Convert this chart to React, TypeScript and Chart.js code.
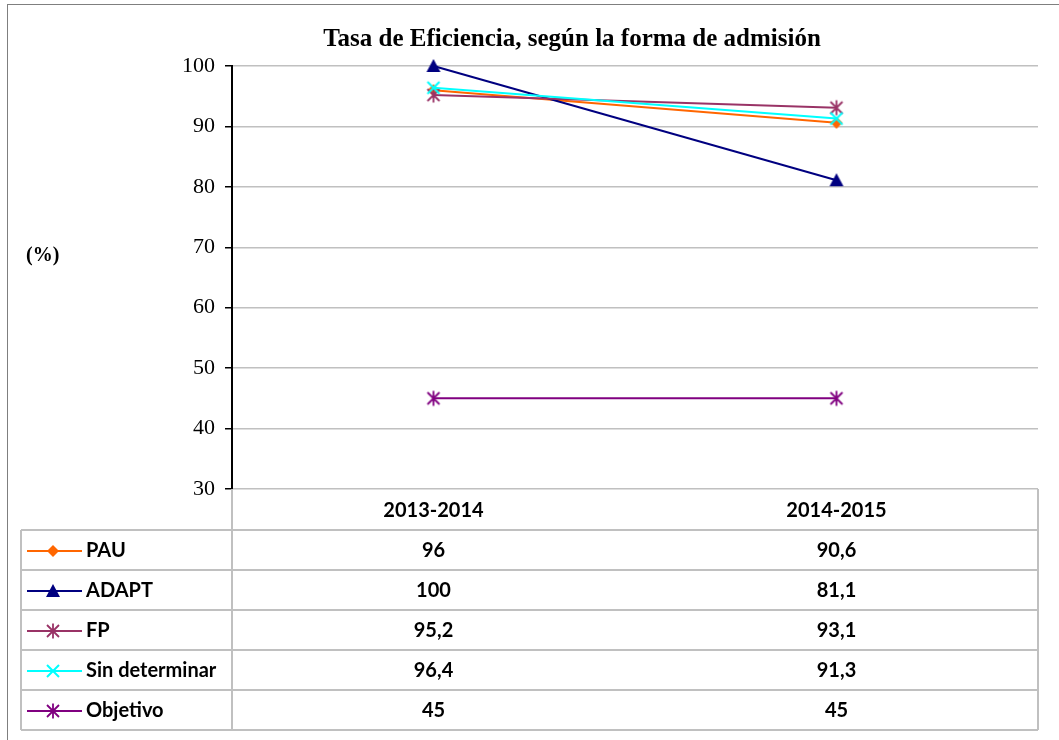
import React, { useEffect, useRef } from 'react';
import { Chart, registerables } from 'chart.js';

Chart.register(...registerables);

// ---- data ----
const categories = ['2013-2014', '2014-2015'];
const seriesNames = ['PAU', 'ADAPT', 'FP', 'Sin determinar', 'Objetivo'];
const pauValues = [96, 90.6];
const adaptValues = [100, 81.1];
const fpValues = [95.2, 93.1];
const sinDeterminarValues = [96.4, 91.3];
const objetivoValues = [45, 45];
const yMin = 30;
const yMax = 100;
const yStep = 10;
const chartTitle = 'Tasa de Eficiencia, según la forma de admisión';
const yAxisTitle = '(%)';

// ---- styles ----
const seriesColors = ['#FF6600', '#000080', '#993366', '#00FFFF', '#800080'];
const seriesMarkers = ['diamond', 'triangle', 'star', 'x', 'star'];
const seriesValues = [pauValues, adaptValues, fpValues, sinDeterminarValues, objetivoValues];

const TABLE_FONT = 'bold 20px Lato, "Open Sans", sans-serif';
const SERIF = '"Liberation Serif", "DejaVu Serif", serif';
const GRID = '#c0c0c0';

function makeMarker(kind: string, color: string): HTMLCanvasElement {
  const s = 18;
  const c = document.createElement('canvas');
  c.width = s;
  c.height = s;
  const g = c.getContext('2d') as CanvasRenderingContext2D;
  const m = s / 2;
  g.fillStyle = color;
  g.strokeStyle = color;
  g.lineWidth = 2;
  if (kind === 'diamond') {
    const r = 6;
    g.beginPath();
    g.moveTo(m, m - r);
    g.lineTo(m + r, m);
    g.lineTo(m, m + r);
    g.lineTo(m - r, m);
    g.closePath();
    g.fill();
  } else if (kind === 'triangle') {
    g.beginPath();
    g.moveTo(m, m - 7);
    g.lineTo(m + 7, m + 6);
    g.lineTo(m - 7, m + 6);
    g.closePath();
    g.fill();
  } else if (kind === 'x') {
    const d = 6;
    g.beginPath();
    g.moveTo(m - d, m - d);
    g.lineTo(m + d, m + d);
    g.moveTo(m + d, m - d);
    g.lineTo(m - d, m + d);
    g.stroke();
  } else if (kind === 'star') {
    const d = 6;
    g.lineWidth = 1.8;
    g.beginPath();
    g.moveTo(m - d, m - d);
    g.lineTo(m + d, m + d);
    g.moveTo(m + d, m - d);
    g.lineTo(m - d, m + d);
    g.moveTo(m, m - 7.5);
    g.lineTo(m, m + 7.5);
    g.stroke();
  }
  return c;
}

function fmt(v: number): string {
  return String(v).replace('.', ',');
}

export default function App() {
  const ref = useRef<HTMLCanvasElement | null>(null);

  useEffect(() => {
    const canvas = ref.current;
    if (!canvas) return;
    const markers = seriesMarkers.map((k, i) => makeMarker(k, seriesColors[i]));

    const decorPlugin = {
      id: 'decor',
      beforeDraw(chart: any) {
        const ctx = chart.ctx as CanvasRenderingContext2D;
        ctx.save();
        ctx.fillStyle = '#ffffff';
        ctx.fillRect(0, 0, chart.width, chart.height);
        ctx.strokeStyle = '#7f7f7f';
        ctx.lineWidth = 1;
        ctx.strokeRect(7.5, 4.5, 3000, 3000);
        ctx.restore();
      },
      afterDraw(chart: any) {
        const ctx = chart.ctx as CanvasRenderingContext2D;
        const area = chart.chartArea;
        const xScale = chart.scales.x;
        ctx.save();
        // title
        ctx.fillStyle = '#000';
        ctx.font = 'bold 25px ' + SERIF;
        ctx.textAlign = 'center';
        ctx.textBaseline = 'alphabetic';
        ctx.fillText(chartTitle, 572, 46);
        // y axis title
        ctx.font = 'bold 20px ' + SERIF;
        ctx.textAlign = 'left';
        ctx.textBaseline = 'middle';
        ctx.fillText(yAxisTitle, 26, 256);

        // data table
        const L = 21;
        const A = area.left;
        const R = area.right;
        const top = area.bottom;
        const headerH = 41;
        const rowH = 40;
        const rowsTop = top + headerH;
        const n = seriesNames.length;
        ctx.strokeStyle = GRID;
        ctx.lineWidth = 2;
        ctx.beginPath();
        ctx.moveTo(A, top);
        ctx.lineTo(A, rowsTop);
        ctx.moveTo(R, top);
        ctx.lineTo(R, rowsTop);
        for (let k = 0; k <= n; k++) {
          const y = rowsTop + k * rowH;
          ctx.moveTo(L, y);
          ctx.lineTo(R, y);
        }
        [L, A, R].forEach((x) => {
          ctx.moveTo(x, rowsTop);
          ctx.lineTo(x, rowsTop + n * rowH);
        });
        ctx.stroke();

        ctx.fillStyle = '#000';
        ctx.font = TABLE_FONT;
        ctx.textBaseline = 'middle';
        ctx.textAlign = 'center';
        categories.forEach((cat, i) => {
          ctx.fillText(cat, xScale.getPixelForValue(i), top + headerH / 2 + 1);
        });
        seriesNames.forEach((name, k) => {
          const cy = rowsTop + k * rowH + rowH / 2 + 1;
          ctx.strokeStyle = seriesColors[k];
          ctx.lineWidth = 2;
          ctx.beginPath();
          ctx.moveTo(L + 6, cy);
          ctx.lineTo(L + 61, cy);
          ctx.stroke();
          const mk = markers[k];
          ctx.drawImage(mk, L + 32 - mk.width / 2, cy - mk.height / 2);
          ctx.fillStyle = '#000';
          ctx.textAlign = 'left';
          ctx.fillText(name, L + 65, cy);
          ctx.textAlign = 'center';
          seriesValues[k].forEach((v, i) => {
            ctx.fillText(fmt(v), xScale.getPixelForValue(i), cy);
          });
        });
        ctx.restore();
      },
    };

    const datasets = seriesNames.map((name, i) => ({
      label: name,
      data: seriesValues[i],
      borderColor: seriesColors[i],
      backgroundColor: seriesColors[i],
      borderWidth: 2,
      pointStyle: markers[i],
      pointRadius: 7,
      pointHoverRadius: 7,
      tension: 0,
      fill: false,
      clip: false as any,
      order: seriesNames.length - i,
    }));

    const chart = new Chart(canvas, {
      type: 'line',
      data: { labels: categories, datasets },
      options: {
        animation: false,
        responsive: false,
        devicePixelRatio: 1,
        layout: { padding: { top: 66, right: 21, bottom: 251, left: 0 } },
        plugins: {
          legend: { display: false },
          title: { display: false },
          tooltip: { enabled: false },
        },
        scales: {
          x: {
            display: false,
            offset: true,
          },
          y: {
            min: yMin,
            max: yMax,
            ticks: {
              stepSize: yStep,
              color: '#000',
              padding: 10,
              font: { family: SERIF, size: 22 },
            },
            grid: {
              color: GRID,
              lineWidth: 1.5,
              tickColor: '#000',
              tickLength: 7,
              tickWidth: 1.5,
            },
            border: { display: true, color: '#000', width: 2 },
            afterFit(scale: any) {
              scale.width = 232;
            },
          },
        },
      },
      plugins: [decorPlugin],
    } as any);

    return () => chart.destroy();
  }, []);

  return (
    <div
      style={{
        position: 'absolute',
        left: 0,
        top: 0,
        width: 1059,
        height: 740,
        overflow: 'hidden',
        background: '#fff',
      }}
    >
      <canvas ref={ref} width={1059} height={740} style={{ display: 'block', width: 1059, height: 740 }} />
    </div>
  );
}
